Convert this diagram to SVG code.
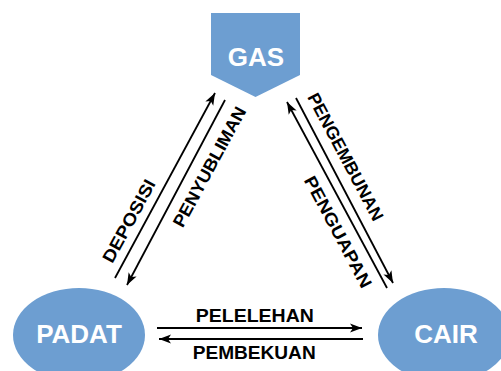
<svg xmlns="http://www.w3.org/2000/svg" width="501" height="371" viewBox="0 0 501 371">
  <style>
    .state { fill: #6d9ed1; }
    .state-label { font-family: "Liberation Sans", Arial, sans-serif; font-weight: bold; font-size: 26px; fill: #ffffff; text-anchor: middle; }
    .edge { stroke: #000000; stroke-width: 1.8; fill: none; marker-end: url(#head); }
    .edge-label { font-family: "Liberation Sans", Arial, sans-serif; font-weight: bold; font-size: 17.5px; fill: #000000; text-anchor: middle; }
  </style>
  <defs>
    <marker id="head" markerUnits="userSpaceOnUse" markerWidth="14" markerHeight="10" refX="13" refY="5" orient="auto">
      <path d="M1,0.5 L13,5 L1,9.5 L4,5 Z" fill="#000000"/>
    </marker>
  </defs>
  <rect width="501" height="371" fill="#ffffff"/>

  <g id="gas">
    <polygon class="state" points="211,13 300,13 300,75 255.5,97 211,75"/>
    <text class="state-label" x="256" y="65.5">GAS</text>
  </g>

  <g id="padat">
    <ellipse class="state" cx="79" cy="335" rx="66" ry="47"/>
    <text class="state-label" x="79" y="343.3">PADAT</text>
  </g>

  <g id="cair">
    <ellipse class="state" cx="444" cy="335" rx="66" ry="47"/>
    <text class="state-label" x="446" y="343.3">CAIR</text>
  </g>

  <g id="connectors">
    <!-- solid / gas -->
    <line class="edge" x1="115" y1="278" x2="215" y2="93"/>
    <line class="edge" x1="225" y1="100" x2="127" y2="285"/>
    <!-- gas / liquid -->
    <line class="edge" x1="387" y1="288" x2="287" y2="102"/>
    <line class="edge" x1="296" y1="98" x2="393" y2="283"/>
    <!-- solid / liquid -->
    <line class="edge" x1="157" y1="328" x2="362" y2="328"/>
    <line class="edge" x1="363" y1="339" x2="159" y2="339"/>

    <text class="edge-label" transform="translate(128.7,220.8) rotate(-61.5)" x="0" y="6.3" textLength="92" lengthAdjust="spacingAndGlyphs">DEPOSISI</text>
    <text class="edge-label" transform="translate(209.2,166.7) rotate(-61.5)" x="0" y="6.3" textLength="134" lengthAdjust="spacingAndGlyphs">PENYUBLIMAN</text>
    <text class="edge-label" transform="translate(345.8,156.7) rotate(62)" x="0" y="6.3" textLength="142" lengthAdjust="spacingAndGlyphs">PENGEMBUNAN</text>
    <text class="edge-label" transform="translate(338.3,231.7) rotate(62)" x="0" y="6.3" textLength="124" lengthAdjust="spacingAndGlyphs">PENGUAPAN</text>
    <text class="edge-label" x="254.8" y="321.7" textLength="118" lengthAdjust="spacingAndGlyphs">PELELEHAN</text>
    <text class="edge-label" x="254.2" y="359.3" textLength="123" lengthAdjust="spacingAndGlyphs">PEMBEKUAN</text>
  </g>
</svg>
